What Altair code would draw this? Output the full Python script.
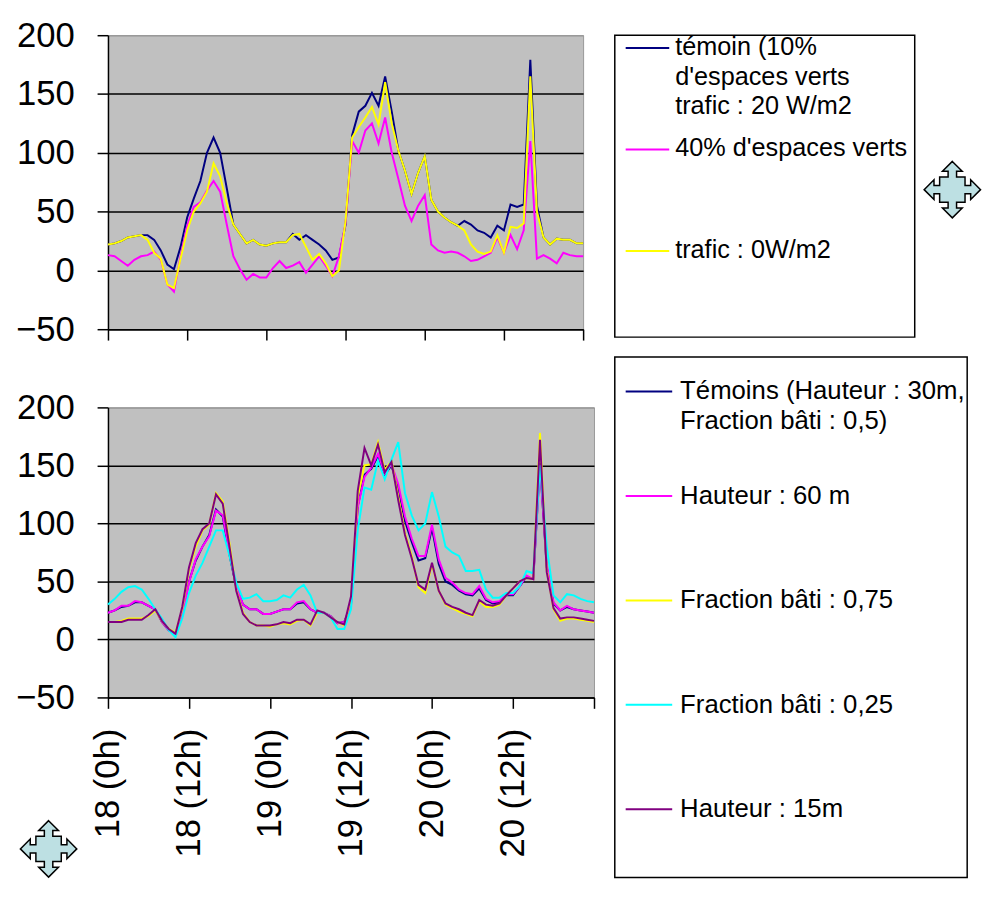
import altair as alt
import pandas as pd

FONT = "Liberation Sans"

# ---------------- data ----------------
hours = list(range(73))
tick_hours = [0, 12, 24, 36, 48, 60, 72]
tick_labels = ["18 (0h)", "18 (12h)", "19 (0h)", "19 (12h)", "20 (0h)", "20 (12h)", ""]
y_ticks = [-50, 0, 50, 100, 150, 200]

top_names = ["temoin", "vert40", "trafic0"]
top_labels = ["témoin (10%\nd'espaces verts\ntrafic : 20 W/m2", "40% d'espaces verts", "trafic : 0W/m2"]
top_colors = ["#000080", "#FF00FF", "#FFFF00"]

top_temoin = [22, 23, 25, 28, 29, 30, 30, 26, 17, 5,
              1, 20, 45, 61, 76, 100, 113, 100, 70, 39,
              31, 23, 26, 22, 21, 23, 24, 24, 31, 26,
              30, 26, 22, 17, 9, 11, 39, 115, 135, 140,
              151, 140, 165, 135, 102, 85, 65, 83, 97, 60,
              50, 45, 41, 38, 42, 39, 34, 32, 28, 38,
              34, 56, 54, 56, 179, 55, 28, 22, 27, 26,
              26, 23, 23]
top_vert40 = [13, 12, 8, 4, 9, 12, 13, 16, 9, -12,
              -18, 12, 38, 54, 58, 68, 76, 67, 39, 12,
              1, -8, -3, -6, -6, 2, 8, 2, 4, 7,
              -2, 5, 12, 4, -5, 12, 40, 110, 100, 119,
              125, 108, 130, 100, 78, 55, 42, 55, 64, 22,
              17, 15, 16, 15, 12, 8, 9, 12, 15, 28,
              15, 30, 18, 34, 110, 10, 13, 10, 6, 15,
              13, 12, 12]
top_trafic0 = [22, 23, 25, 28, 29, 30, 26, 15, 10, -12,
               -15, 10, 34, 50, 57, 67, 91, 80, 57, 39,
               31, 23, 26, 22, 21, 23, 24, 24, 30, 31,
               20, 9, 14, 6, -5, 0, 42, 113, 122, 130,
               139, 124, 160, 125, 102, 85, 65, 83, 97, 60,
               50, 45, 41, 38, 34, 22, 16, 14, 16, 30,
               15, 37, 36, 40, 165, 50, 28, 22, 27, 26,
               26, 23, 23]

bot_names = ["temoins", "h60", "f075", "f025", "h15"]
bot_labels = ["Témoins (Hauteur : 30m,\nFraction bâti : 0,5)", "Hauteur : 60 m",
              "Fraction bâti : 0,75", "Fraction bâti : 0,25", "Hauteur : 15m"]
bot_colors = ["#000080", "#FF00FF", "#FFFF00", "#00FFFF", "#800080"]

bot_temoins = [23, 25, 28, 29, 32, 32, 29, 26, 15, 8,
               5, 22, 50, 68, 80, 90, 112, 106, 73, 45,
               30, 26, 26, 22, 22, 24, 26, 26, 31, 32,
               26, 23, 23, 20, 14, 15, 30, 115, 142, 147,
               158, 142, 150, 130, 102, 84, 68, 70, 96, 65,
               50, 47, 42, 39, 38, 44, 34, 31, 32, 38,
               38, 46, 54, 52, 152, 62, 31, 25, 28, 26,
               25, 24, 23]
bot_h60 = [23, 25, 29, 29, 33, 32, 29, 26, 15, 8,
           5, 20, 49, 69, 80, 89, 111, 107, 75, 46,
           30, 26, 26, 22, 22, 24, 26, 26, 32, 33,
           26, 23, 23, 20, 14, 15, 29, 114, 140, 148,
           160, 143, 151, 134, 106, 87, 72, 72, 99, 69,
           53, 49, 43, 40, 39, 46, 35, 32, 33, 39,
           39, 46, 55, 52, 150, 65, 32, 25, 29, 26,
           25, 24, 23]
bot_f075 = [15, 15, 16, 18, 18, 18, 20, 25, 16, 9,
            6, 26, 60, 80, 94, 99, 126, 119, 83, 43,
            23, 15, 12, 12, 11, 13, 14, 13, 16, 17,
            12, 23, 23, 19, 15, 12, 35, 123, 150, 151,
            170, 146, 154, 123, 92, 72, 45, 40, 65, 42,
            30, 27, 24, 22, 20, 33, 28, 28, 30, 38,
            44, 50, 53, 52, 178, 60, 26, 16, 18, 18,
            17, 16, 15]
bot_f025 = [30, 35, 41, 45, 46, 43, 35, 26, 18, 8,
            2, 18, 40, 55, 66, 80, 94, 94, 72, 49,
            35, 36, 39, 33, 33, 34, 38, 36, 43, 47,
            38, 23, 23, 19, 9, 9, 26, 94, 131, 129,
            154, 138, 155, 170, 126, 107, 94, 100, 127, 106,
            80, 75, 72, 59, 59, 60, 43, 36, 36, 40,
            40, 46, 59, 57, 150, 80, 38, 32, 39, 38,
            35, 33, 32]
bot_h15 = [15, 15, 15, 17, 17, 17, 21, 26, 16, 9,
           5, 28, 62, 83, 95, 100, 125, 117, 80, 42,
           22, 15, 12, 12, 12, 13, 15, 14, 17, 17,
           13, 25, 23, 19, 15, 13, 37, 128, 165, 150,
           168, 144, 153, 120, 90, 70, 47, 43, 66, 42,
           31, 28, 26, 23, 21, 34, 30, 29, 31, 38,
           44, 50, 53, 52, 172, 58, 27, 18, 19, 19,
           18, 17, 16]

ARROW = ("M0,-1 L0.35,-0.65 L0.15,-0.65 L0.15,-0.45 L0.45,-0.45 L0.45,-0.15 L0.65,-0.15 "
         "L0.65,-0.35 L1,0 L0.65,0.35 L0.65,0.15 L0.45,0.15 L0.45,0.45 L0.15,0.45 L0.15,0.65 "
         "L0.35,0.65 L0,1 L-0.35,0.65 L-0.15,0.65 L-0.15,0.45 L-0.45,0.45 L-0.45,0.15 "
         "L-0.65,0.15 L-0.65,0.35 L-1,0 L-0.65,-0.35 L-0.65,-0.15 L-0.45,-0.15 L-0.45,-0.45 "
         "L-0.15,-0.45 L-0.15,-0.65 L-0.35,-0.65 Z")


def long_df(names, series):
    rows = []
    for n, vals in zip(names, series):
        for h, v in zip(hours, vals):
            rows.append({"hour": h, "value": v, "series": n})
    return pd.DataFrame(rows)


label_expr = "[" + ",".join("'" + t + "'" for t in tick_labels) + "][round(datum.value / 12)]"

dummy = pd.DataFrame({"k": [1]})


def move_icon(px, py, size):
    return alt.Chart(dummy).mark_point(shape=ARROW, size=size, fill="#BDE0E3", fillOpacity=1,
                                       stroke="black", strokeWidth=1.5, opacity=1).encode(
        x=alt.value(px), y=alt.value(py))


def plot(df, names, colors, width, height, show_labels, extra=None):
    x = alt.X("hour:Q", title=None,
              scale=alt.Scale(domain=[0, 72], nice=False, zero=False),
              axis=alt.Axis(values=tick_hours, grid=False, tickSize=11, tickWidth=1.5,
                            tickColor="black", domainColor="black", domainWidth=1.5,
                            labels=show_labels, labelAngle=-90, labelFontSize=35,
                            labelFont=FONT, labelColor="black", labelPadding=20,
                            labelExpr=label_expr))
    y = alt.Y("value:Q", title=None,
              scale=alt.Scale(domain=[-50, 200], nice=False, zero=False),
              axis=alt.Axis(values=y_ticks, grid=True,
                            gridColor={"condition": {"test": "datum.value >= 200", "value": "#999999"},
                                       "value": "black"},
                            gridWidth=1.5, tickSize=11, tickWidth=1.5, tickColor="black",
                            domainColor="black", domainWidth=1.5, labelFontSize=35,
                            labelFont=FONT, labelColor="black", labelPadding=23))
    layers = [alt.Chart(df[df["series"] == n]).mark_line(color=c, strokeWidth=2).encode(x=x, y=y)
              for n, c in zip(names, colors)]
    return alt.layer(*(layers + (extra or []))).properties(
        width=width, height=height,
        view=alt.ViewBackground(fill="#C0C0C0", stroke="#999999", strokeWidth=1))


def legend(key, labels, names, colors, width, height, y_range, sym_x2, text_x, font_size, extra=None):
    rf = "rank_" + key
    df = pd.DataFrame({"label": labels, "series": names, rf: list(range(len(names)))})
    y = alt.Y(rf + ":O", scale=alt.Scale(type="point", range=y_range, padding=0), axis=None)
    syms = [alt.Chart(df[df["series"] == n]).mark_rule(strokeWidth=2, color=c).encode(
        x=alt.value(11), x2=alt.value(sym_x2), y=y) for n, c in zip(names, colors)]
    txt = alt.Chart(df).mark_text(align="left", baseline="top", dy=-13, fontSize=font_size,
                                  lineHeight=30, lineBreak="\n", font=FONT, color="black").encode(
        x=alt.value(text_x), y=y, text="label:N")
    layers = syms + [txt] + (extra or [])
    return alt.layer(*layers).properties(
        width=width, height=height,
        view=alt.ViewBackground(fill="white", stroke="black", strokeWidth=1.5))


top_df = long_df(top_names, [top_temoin, top_vert40, top_trafic0])
bot_df = long_df(bot_names, [bot_temoins, bot_h60, bot_f075, bot_f025, bot_h15])

top_plot = plot(top_df, top_names, top_colors, 480, 297, False)
bot_plot = plot(bot_df, bot_names, bot_colors, 491, 293, True,
                extra=[move_icon(-60, 446, 3249)])

top_leg = legend("top", top_labels, top_names, top_colors, 303, 305, [13, 218], 55, 61, 25.5,
                 extra=[move_icon(341, 156, 3249)])
bot_leg = legend("bot", bot_labels, bot_names, bot_colors, 356, 526, [35, 457], 58, 66, 26)

left = alt.vconcat(top_plot, bot_plot, spacing=79, bounds="flush")
right = alt.vconcat(top_leg, bot_leg, spacing=20, bounds="flush")

chart = alt.hconcat(left, right, spacing=15).properties(
    padding={"left": 7, "top": 5, "right": 0, "bottom": 0}
).configure(font=FONT)

chart.save("out.html", embed_options={"renderer": "svg", "actions": False})
